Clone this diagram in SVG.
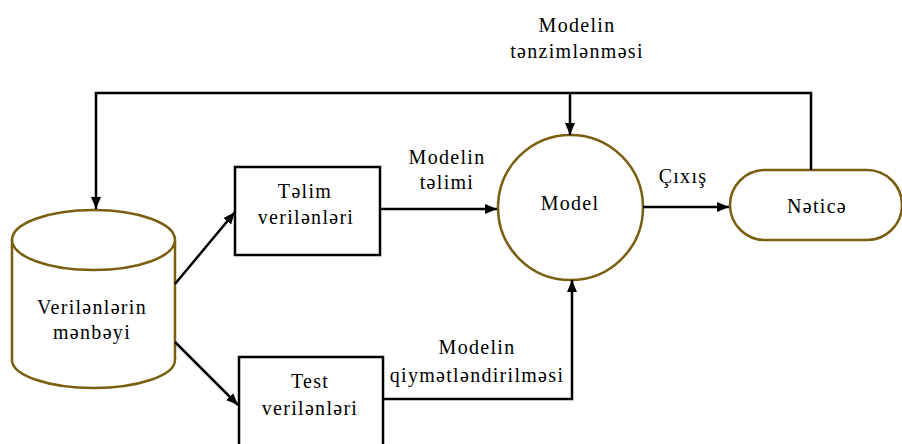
<svg xmlns="http://www.w3.org/2000/svg" width="902" height="444" viewBox="0 0 902 444">
<style>
text{font-family:"Liberation Serif","DejaVu Serif",serif;font-size:20px;fill:#000;text-anchor:middle;letter-spacing:1.3px}
.box{fill:#fff;stroke:#000;stroke-width:2.5}
.ol{fill:#fff;stroke:#7a5f10;stroke-width:2.5}
.c{fill:none;stroke:#000;stroke-width:2.5}
</style>
<defs>
<marker id="ah" viewBox="0 0 12 10" refX="12" refY="5" markerWidth="12" markerHeight="10" markerUnits="userSpaceOnUse" orient="auto">
<path d="M0,0 L12,5 L0,10 Z" fill="#000"/>
</marker>
</defs>
<g id="source">
<path class="ol" d="M12,240 L12,360 A81.5,28 0 0 0 175,360 L175,240"/>
<ellipse class="ol" cx="93.5" cy="240" rx="81.5" ry="30"/>
<text x="92" y="314">Verilənlərin</text>
<text x="92" y="339">mənbəyi</text>
</g>
<g id="train">
<rect class="box" x="235" y="167" width="145" height="88"/>
<text x="305" y="198">Təlim</text>
<text x="306" y="224">verilənləri</text>
</g>
<g id="test">
<rect class="box" x="239" y="357" width="144" height="90"/>
<text x="310" y="388">Test</text>
<text x="310" y="415">verilənləri</text>
</g>
<g id="model">
<circle class="ol" cx="570.5" cy="207.5" r="72.5"/>
<text x="570" y="210">Model</text>
</g>
<g id="result">
<rect class="ol" x="730" y="170" width="172" height="70" rx="35"/>
<text x="817" y="213">Nəticə</text>
</g>
<g id="connectors">
<line class="c" x1="175" y1="284" x2="235" y2="212" marker-end="url(#ah)"/>
<line class="c" x1="175" y1="342" x2="238" y2="405" marker-end="url(#ah)"/>
<line class="c" x1="380" y1="209" x2="497" y2="209" marker-end="url(#ah)"/>
<line class="c" x1="643" y1="207" x2="729" y2="207" marker-end="url(#ah)"/>
<polyline class="c" points="383,399 572,399 572,280" marker-end="url(#ah)"/>
<polyline class="c" points="811,170 811,93 96,93 96,209" marker-end="url(#ah)"/>
<line class="c" x1="570" y1="93" x2="570" y2="135" marker-end="url(#ah)"/>
</g>
<g id="labels">
<text x="447" y="164">Modelin</text>
<text x="447" y="189">təlimi</text>
<text x="683" y="183">Çıxış</text>
<text x="577" y="32">Modelin</text>
<text x="577" y="58">tənzimlənməsi</text>
<text x="477" y="354">Modelin</text>
<text x="477" y="382">qiymətləndirilməsi</text>
</g>
</svg>
